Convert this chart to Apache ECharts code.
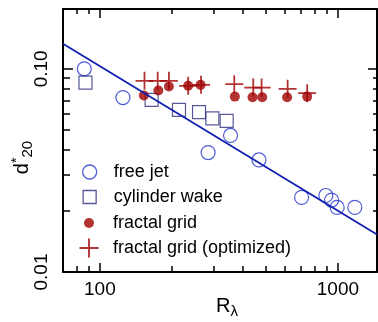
<!DOCTYPE html>
<html>
<head>
<meta charset="utf-8">
<script src="https://cdn.jsdelivr.net/npm/echarts@6/dist/echarts.min.js"></script>
<style>
html,body{margin:0;padding:0;background:#fff;}
#chart{width:378px;height:322px;}
</style>
</head>
<body>
<div id="chart"></div>
<script>
// ---- data ----
const freeJetX = [86, 125, 285, 354, 466, 704, 890, 941, 993, 1178];
const freeJetY = [0.100, 0.0722, 0.0387, 0.047, 0.0356, 0.0233, 0.0238, 0.0226, 0.0208, 0.0208];
const wakeX = [87, 165, 215, 261, 297, 341];
const wakeY = [0.0856, 0.0703, 0.0628, 0.0612, 0.057, 0.0555];
const fractalX = [153, 176, 195, 235, 265, 369, 438, 481, 612, 743];
const fractalY = [0.0739, 0.0782, 0.0818, 0.0825, 0.0834, 0.073, 0.0725, 0.0725, 0.0725, 0.073];
const optX = [154, 175, 195, 235, 266, 367, 441, 478, 615, 743];
const optY = [0.0873, 0.0873, 0.0873, 0.0825, 0.0834, 0.084, 0.0809, 0.0809, 0.0797, 0.0759];
const fitX = [70, 1460];
const fitY = [0.133, 0.0153];

const xMajorTicks = [100, 1000];
const xMinorTicks = [80, 90, 200, 300, 400, 500, 600, 700, 800, 900];
const yMajorTicks = [0.01, 0.1];
const yMinorTicks = [0.02, 0.03, 0.04, 0.05, 0.06, 0.07, 0.08, 0.09];

const names = ['free jet', 'cylinder wake', 'fractal grid', 'fractal grid (optimized)'];

// ---- chart ----
const FONT = '"Liberation Sans", Arial, Helvetica, sans-serif';
const zip = (a, b) => a.map((v, i) => [v, b[i]]);
const X_MIN = 70, X_MAX = 1460, Y_MIN = 0.01, Y_MAX = 0.197;
const crossPath = 'path://M0,9L20,9L20,11L0,11Z M9,0L11,0L11,20L9,20Z';

function xAx(pos, ticks, len, labels, line, name) {
  return {
    type: 'log', logBase: 10, position: pos, min: X_MIN, max: X_MAX,
    axisLine: { show: line, onZero: false, lineStyle: { color: '#000', width: 2 } },
    axisTick: { show: true, inside: true, length: len, customValues: ticks, lineStyle: { color: '#000', width: 1.5 } },
    axisLabel: labels ? { show: true, customValues: ticks, fontSize: 19, color: '#000', fontFamily: FONT, margin: 8, formatter: v => String(Math.round(v)) } : { show: false },
    splitLine: { show: false }, minorTick: { show: false },
    name: name || '', nameLocation: 'middle', nameGap: 22, nameMoveOverlap: false,
    nameTextStyle: name ? {
      fontSize: 20, color: '#000', fontFamily: FONT, padding: [0, 0, 0, 14],
      rich: { sub: { fontSize: 15, fontFamily: FONT, color: '#000', padding: [10, 0, 0, 0] } }
    } : {}
  };
}
function yAx(pos, ticks, len, labels, line, name) {
  return {
    type: 'log', logBase: 10, position: pos, min: Y_MIN, max: Y_MAX,
    axisLine: { show: line, onZero: false, lineStyle: { color: '#000', width: 2 } },
    axisTick: { show: true, inside: true, length: len, customValues: ticks, lineStyle: { color: '#000', width: 1.5 } },
    axisLabel: labels ? { show: true, customValues: ticks, rotate: 90, fontSize: 19, color: '#000', fontFamily: FONT, margin: 12, formatter: v => v.toFixed(2) } : { show: false },
    splitLine: { show: false }, minorTick: { show: false },
    name: name || '', nameLocation: 'middle', nameGap: 28, nameMoveOverlap: false,
    nameTextStyle: name ? {
      fontSize: 20, color: '#000', fontFamily: FONT, padding: [0, 34, 0, 0],
      rich: {
        sup: { fontSize: 14, fontFamily: FONT, color: '#000', padding: [0, 0, 10, 0] },
        sub: { fontSize: 15, fontFamily: FONT, color: '#000', padding: [10, 0, 0, 0] }
      }
    } : {}
  };
}

function legendFor(name, rowY, h, bw) {
  return {
    data: [name], left: 89 - h / 2, top: rowY - Math.max(h, 18) / 2, orient: 'vertical', padding: 0,
    itemWidth: h, itemHeight: h, selectedMode: false,
    itemStyle: { borderWidth: bw },
    textStyle: { fontSize: 18, color: '#000', fontFamily: FONT, padding: [0, 0, 0, 19 - h / 2] }
  };
}

const option = {
  animation: false,
  backgroundColor: '#fff',
  grid: { left: 63, right: 1, top: 9, bottom: 50, containLabel: false, outerBoundsMode: 'none' },
  xAxis: [
    xAx('bottom', xMajorTicks, 9, true, true, 'R{sub|λ}'),
    xAx('bottom', xMinorTicks, 6, false, false),
    xAx('top', xMajorTicks, 9, false, true),
    xAx('top', xMinorTicks, 5, false, false)
  ],
  yAxis: [
    yAx('left', yMajorTicks, 10, true, true, 'd{sup|*}{sub|20}'),
    yAx('left', yMinorTicks, 7, false, false),
    yAx('right', yMajorTicks, 9, false, true),
    yAx('right', yMinorTicks, 4, false, false)
  ],
  legend: [
    legendFor(names[0], 172, 14, 1.3),
    legendFor(names[1], 197, 13, 1.3),
    legendFor(names[2], 223, 10, 0),
    legendFor(names[3], 248, 19, 0)
  ],
  series: [
    {
      name: names[0], type: 'scatter', data: zip(freeJetX, freeJetY),
      symbol: 'circle', symbolSize: 14, z: 2,
      itemStyle: { color: 'rgba(255,255,255,0)', borderColor: '#2233cc', borderWidth: 1.2 }
    },
    {
      name: names[1], type: 'scatter', data: zip(wakeX, wakeY),
      symbol: 'rect', symbolSize: 13, z: 2,
      itemStyle: { color: 'rgba(255,255,255,0)', borderColor: '#2d2f80', borderWidth: 1.2 }
    },
    {
      name: names[2], type: 'scatter', data: zip(fractalX, fractalY),
      symbol: 'circle', symbolSize: 10, z: 3,
      itemStyle: { color: '#a00000' }
    },
    {
      name: names[3], type: 'scatter', data: zip(optX, optY),
      symbol: crossPath, symbolSize: 18, z: 3,
      itemStyle: { color: '#a00000' }
    },
    {
      name: 'fit', type: 'line', data: zip(fitX, fitY), z: 5,
      symbol: 'none', lineStyle: { color: '#1020b0', width: 1.8 }, silent: true
    }
  ]
};

const chart = echarts.init(document.getElementById('chart'), null, { renderer: 'canvas' });
chart.setOption(option);
</script>
</body>
</html>
